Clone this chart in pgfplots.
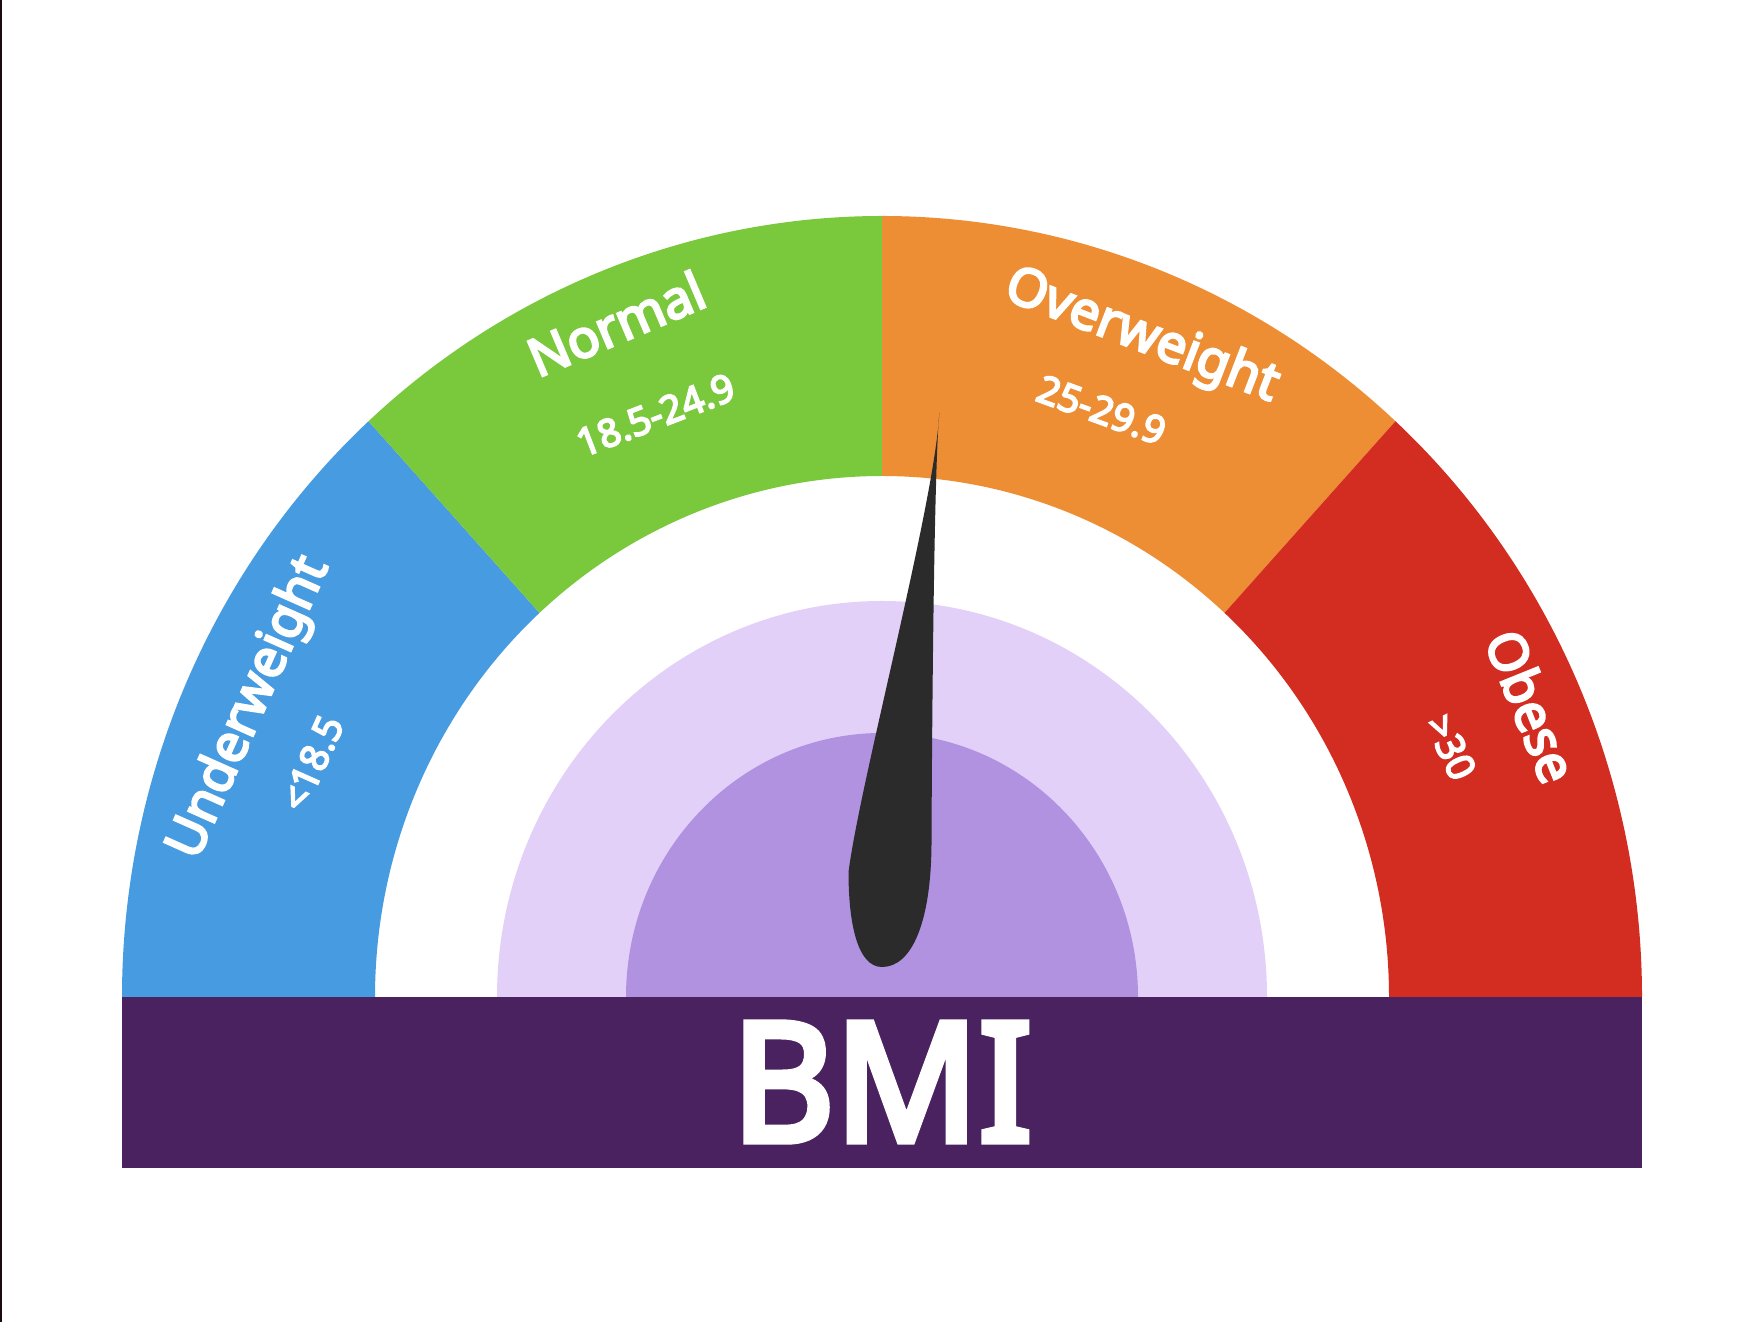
\documentclass[border=0pt]{standalone}
\usepackage{pgfplots}
\pgfplotsset{compat=1.18}
\usepackage{fontspec}
\setmainfont{Noto Sans}[AutoFakeBold=4.5]
\definecolor{cblue}{HTML}{479BE0}
\definecolor{cgreen}{HTML}{7AC83B}
\definecolor{corange}{HTML}{EE8E34}
\definecolor{cred}{HTML}{D22D20}
\definecolor{cbar}{HTML}{4B2260}
\definecolor{clpurple}{HTML}{E2D0F8}
\definecolor{cmpurple}{HTML}{B192E0}
\definecolor{cneedle}{HTML}{2B2B2B}
\definecolor{cedge}{HTML}{1B0A12}
% annular sector: start angle, end angle, colour
\newcommand{\sector}[3]{\fill[#3] (axis cs:{882+760*cos(#1)},{325+781*sin(#1)}) arc[start angle=#1,end angle=#2,x radius=76mm,y radius=78.1mm] -- (axis cs:{882+507*cos(#2)},{325+521*sin(#2)}) arc[start angle=#2,end angle=#1,x radius=50.7mm,y radius=52.1mm] -- cycle;}
\newcommand{\lab}[4]{\node[white, font=\fontsize{15}{15}\selectfont\bfseries, rotate=#3, anchor=mid, inner sep=0pt] at (axis cs:#1,#2) {#4};}
\newcommand{\num}[4]{\node[white, font=\fontsize{11}{11}\selectfont\bfseries, rotate=#3, anchor=mid, inner sep=0pt] at (axis cs:#1,#2) {#4};}
\begin{document}
\begin{tikzpicture}
\begin{axis}[hide axis, scale only axis, width=175.8mm, height=132.2mm,
  xmin=0, xmax=1758, ymin=0, ymax=1322, clip=false]
\fill[white] (axis cs:0,0) rectangle (axis cs:1758,1322);
\fill[cedge] (axis cs:0,0) rectangle (axis cs:2.5,1322);
% gauge segments (angles in degrees)
\sector{180}{132.5}{cblue}
\sector{132.5}{90}{cgreen}
\sector{90}{47.5}{corange}
\sector{47.5}{0}{cred}
% inner discs
\fill[clpurple] (axis cs:497,325) arc[start angle=180,end angle=0,x radius=38.5mm,y radius=39.6mm] -- cycle;
\fill[cmpurple] (axis cs:626,325) arc[start angle=180,end angle=0,x radius=25.6mm,y radius=26.4mm] -- cycle;
% base bar
\addplot[fill=cbar, draw=none] coordinates {(122,154.3) (1642,154.3) (1642,324.7) (122,324.7)} -- cycle;
% labels
\lab{254}{612}{66}{Underweight}
\num{316}{557}{66}{<18.5}
\lab{620}{989}{23}{Normal}
\num{657}{903}{21}{18.5-24.9}
\lab{1140}{981}{-21}{Overweight}
\num{1100}{908}{-20}{25-29.9}
\lab{1522}{612}{-68}{Obese}
\num{1447}{573}{-65}{>30}
% needle
\fill[cneedle] (axis cs:939.3,909) .. controls (axis cs:934,850) and (axis cs:932,600) .. (axis cs:931.5,478)
  .. controls (axis cs:931,400) and (axis cs:912,355) .. (axis cs:882,355)
  .. controls (axis cs:857,355) and (axis cs:848.5,400) .. (axis cs:848.5,450)
  .. controls (axis cs:860,540) and (axis cs:935,820) .. (axis cs:939.3,909) -- cycle;
% title
\node[white, font=\fontsize{47}{47}\selectfont\bfseries, xscale=0.96] at (axis cs:882,240) {BMI};
\end{axis}
\end{tikzpicture}
\end{document}
